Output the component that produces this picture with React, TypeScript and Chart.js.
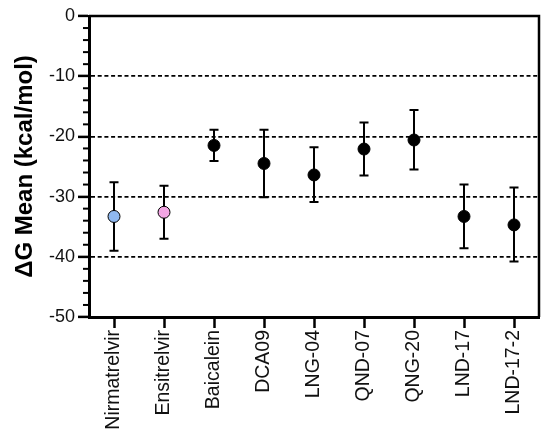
import React, { useEffect, useRef } from "react";
import { Chart, registerables } from "chart.js";

Chart.register(...registerables);

const categories = ["Nirmatrelvir", "Ensitrelvir", "Baicalein", "DCA09", "LNG-04", "QND-07", "QNG-20", "LND-17", "LND-17-2"];
const means = [-33.3, -32.6, -21.5, -24.5, -26.4, -22.1, -20.6, -33.3, -34.7];
const errUpper = [-27.6, -28.2, -18.9, -18.9, -21.8, -17.7, -15.6, -28.0, -28.5];
const errLower = [-39.0, -37.0, -24.1, -30.1, -30.9, -26.5, -25.5, -38.6, -40.8];
const pointColors = ["#8fb8ef", "#f3a6e4", "#000000", "#000000", "#000000", "#000000", "#000000", "#000000", "#000000"];
const yTicks = [0, -10, -20, -30, -40, -50];
const yTitle = "ΔG Mean (kcal/mol)";

const extrasPlugin = {
  id: "extras",
  beforeDatasetsDraw(chart: any) {
    const { ctx, scales } = chart;
    const x = scales.x;
    const y = scales.y;
    ctx.save();
    ctx.strokeStyle = "#000";
    ctx.lineWidth = 2;
    ctx.setLineDash([]);
    for (let i = 0; i < categories.length; i++) {
      const px = x.getPixelForValue(i);
      const top = y.getPixelForValue(errUpper[i]);
      const bot = y.getPixelForValue(errLower[i]);
      ctx.beginPath();
      ctx.moveTo(px, top);
      ctx.lineTo(px, bot);
      ctx.moveTo(px - 4.5, top);
      ctx.lineTo(px + 4.5, top);
      ctx.moveTo(px - 4.5, bot);
      ctx.lineTo(px + 4.5, bot);
      ctx.stroke();
    }
    ctx.restore();
  },
  afterDraw(chart: any) {
    const { ctx, chartArea, scales } = chart;
    const y = scales.y;
    ctx.save();
    ctx.strokeStyle = "#000";
    ctx.setLineDash([]);
    ctx.lineWidth = 2;
    for (let v = -48; v <= -2; v += 2) {
      if (v % 10 === 0) continue;
      const py = y.getPixelForValue(v);
      ctx.beginPath();
      ctx.moveTo(chartArea.left - 6, py);
      ctx.lineTo(chartArea.left, py);
      ctx.stroke();
    }
    ctx.lineWidth = 2.5;
    ctx.beginPath();
    ctx.moveTo(chartArea.left, chartArea.top);
    ctx.lineTo(chartArea.right, chartArea.top);
    ctx.lineTo(chartArea.right, chartArea.bottom);
    ctx.stroke();
    ctx.restore();
  },
};

export default function App() {
  const ref = useRef<HTMLCanvasElement | null>(null);
  useEffect(() => {
    if (!ref.current) return;
    const chart = new Chart(ref.current, {
      type: "line",
      data: {
        labels: categories,
        datasets: [
          {
            data: means,
            showLine: false,
            pointRadius: 6,
            pointBackgroundColor: pointColors,
            pointBorderColor: "#000",
            pointBorderWidth: 1,
          },
        ],
      },
      options: {
        animation: false,
        responsive: true,
        maintainAspectRatio: false,
        layout: { padding: { top: 16, right: 11, left: 0, bottom: 0 } },
        plugins: { legend: { display: false }, tooltip: { enabled: false } },
        scales: {
          x: {
            type: "category",
            offset: true,
            grid: { drawOnChartArea: false, tickLength: 11, tickColor: "#000", tickWidth: 2.5, offset: false },
            border: { display: true, color: "#000", width: 3 },
            ticks: {
              color: "#111",
              font: { family: "Liberation Sans, Arial, sans-serif", size: 19.5 },
              minRotation: 90,
              maxRotation: 90,
              padding: 2,
              autoSkip: false,
            },
            afterFit: (s: any) => {
              s.height = 120;
            },
          },
          y: {
            min: -50,
            max: 0,
            afterBuildTicks: (s: any) => {
              s.ticks = yTicks.map((v) => ({ value: v }));
            },
            grid: {
              color: (c: any) => (c.tick && (c.tick.value === 0 || c.tick.value === -50) ? "rgba(0,0,0,0)" : "#000"),
              lineWidth: 1.8,
              tickColor: "#000",
              tickLength: 11,
              tickWidth: 2.5,
              tickBorderDash: [],
            },
            border: { display: true, color: "#000", width: 3, dash: [4, 2.7] },
            ticks: {
              color: "#111",
              font: { family: "Liberation Sans, Arial, sans-serif", size: 18 },
              padding: 3,
            },
            title: {
              display: true,
              text: yTitle,
              color: "#000",
              font: { family: "Liberation Sans, Arial, sans-serif", size: 24, weight: "bold" },
              padding: { top: 11, bottom: 4 },
            },
            afterFit: (s: any) => {
              s.width = 89;
            },
          },
        },
      },
      plugins: [extrasPlugin],
    });
    return () => chart.destroy();
  }, []);
  return (
    <div style={{ position: "absolute", left: 0, top: 0, width: 550, height: 437, background: "#fff" }}>
      <canvas ref={ref} />
    </div>
  );
}
